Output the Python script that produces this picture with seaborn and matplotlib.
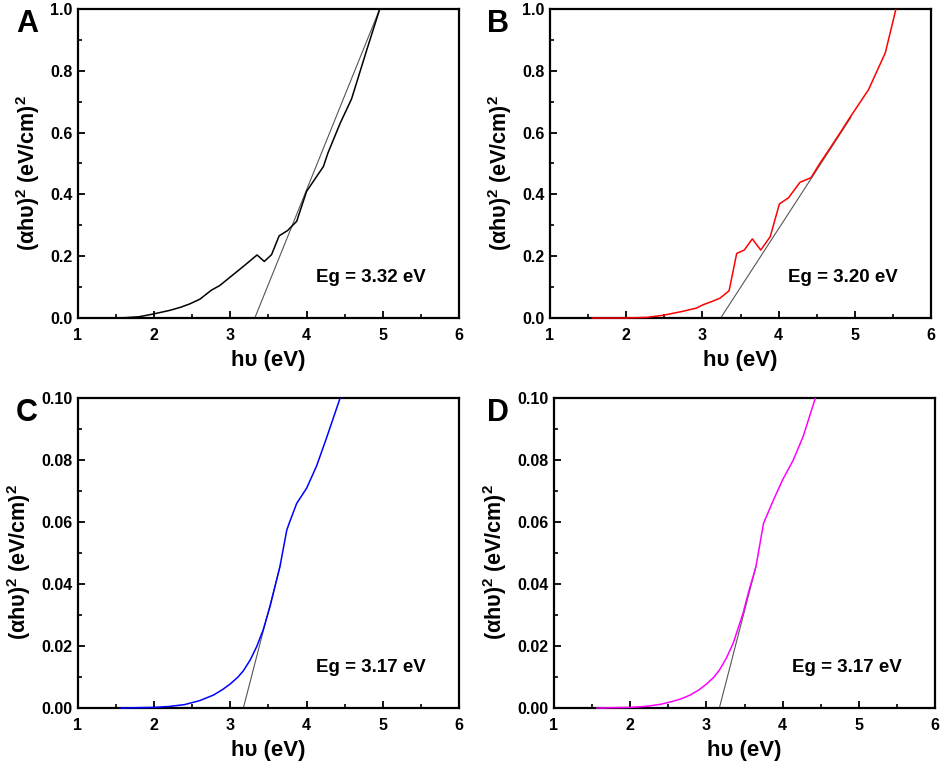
import numpy as np
import pandas as pd
import matplotlib
matplotlib.use("Agg")
import matplotlib.pyplot as plt
import seaborn as sns
from matplotlib.ticker import MultipleLocator, FormatStrFormatter
from matplotlib.transforms import Bbox, TransformedBbox

# ---- data ----
panel_letters = ["A", "B", "C", "D"]
line_colors = ["#000000", "#ff0000", "#0000ff", "#ff00ff"]
eg_labels = ["Eg = 3.32 eV", "Eg = 3.20 eV", "Eg = 3.17 eV", "Eg = 3.17 eV"]

a_x = [1.55, 1.80, 1.99, 2.21, 2.35, 2.47, 2.60, 2.75, 2.86, 3.00, 3.17, 3.35, 3.445, 3.54, 3.64,
       3.75, 3.87, 4.00, 4.22, 4.28, 4.44, 4.59, 4.79, 4.96, 5.02]
a_y = [0.0, 0.004, 0.013, 0.025, 0.035, 0.046, 0.061, 0.090, 0.105, 0.133, 0.167, 0.204, 0.183,
       0.205, 0.266, 0.283, 0.313, 0.410, 0.490, 0.534, 0.630, 0.709, 0.868, 1.0, 1.05]

b_x = [1.55, 2.00, 2.27, 2.49, 2.75, 2.92, 3.01, 3.12, 3.23, 3.35, 3.45, 3.55, 3.655, 3.765, 3.89,
       4.01, 4.13, 4.28, 4.425, 4.54, 4.63, 4.74, 4.83, 4.915, 5.18, 5.40, 5.54, 5.58]
b_y = [0.0, 0.0, 0.002, 0.009, 0.022, 0.032, 0.043, 0.053, 0.064, 0.088, 0.209, 0.220, 0.256,
       0.220, 0.263, 0.369, 0.389, 0.439, 0.454, 0.500, 0.533, 0.574, 0.608, 0.641, 0.739, 0.858,
       1.0, 1.05]

c_x = [1.55, 2.00, 2.20, 2.40, 2.60, 2.78, 2.90, 3.00, 3.10, 3.17, 3.26, 3.345, 3.43, 3.52, 3.65,
       3.74, 3.77, 3.87, 4.00, 4.13, 4.26, 4.44, 4.48]
c_y = [0.0, 0.0002, 0.0005, 0.0011, 0.0024, 0.0042, 0.0060, 0.0078, 0.0100, 0.0120, 0.0155,
       0.0198, 0.0252, 0.0327, 0.0456, 0.0574, 0.0595, 0.0660, 0.0709, 0.0780, 0.0870, 0.1000,
       0.1030]

d_x = [1.56, 2.00, 2.20, 2.40, 2.52, 2.65, 2.78, 2.90, 3.00, 3.10, 3.17, 3.26, 3.35, 3.42, 3.48,
       3.56, 3.65, 3.75, 3.88, 4.00, 4.14, 4.27, 4.43, 4.47]
d_y = [0.0, 0.0002, 0.0005, 0.0012, 0.0019, 0.0028, 0.0041, 0.0058, 0.0077, 0.0100, 0.0122,
       0.0160, 0.0208, 0.0260, 0.0305, 0.0380, 0.0456, 0.0596, 0.0671, 0.0736, 0.0800, 0.0876,
       0.1000, 0.1030]

# linear-fit (Tauc extrapolation) lines: x-intercept, slope, end x
fit_x0 = [3.32, 3.24, 3.17, 3.17]
fit_slope = [0.61, 0.38, 0.095, 0.095]
fit_xend = [4.98, 4.95, 3.66, 3.65]

y_max = [1.0, 1.0, 0.10, 0.10]
y_major = [0.2, 0.2, 0.02, 0.02]
y_fmt = ["%.1f", "%.1f", "%.2f", "%.2f"]

xs = [a_x, b_x, c_x, d_x]
ys = [a_y, b_y, c_y, d_y]

# ---- style ----
sns.set_style("ticks")
plt.rcParams["font.family"] = ["Liberation Sans", "DejaVu Sans"]
plt.rcParams["font.weight"] = "bold"
plt.rcParams["text.color"] = "black"
plt.rcParams["axes.labelcolor"] = "black"
plt.rcParams["axes.edgecolor"] = "black"
plt.rcParams["xtick.color"] = "black"
plt.rcParams["ytick.color"] = "black"
plt.rcParams["mathtext.fontset"] = "custom"
plt.rcParams["mathtext.rm"] = "Liberation Sans:bold"
plt.rcParams["mathtext.bf"] = "Liberation Sans:bold"
plt.rcParams["mathtext.it"] = "Liberation Sans:bold"
plt.rcParams["mathtext.default"] = "bf"

fig = plt.figure(figsize=(9.41, 7.61), dpi=100)
positions = [
    [78 / 941, (761 - 318) / 761, 381 / 941, 309 / 761],
    [550 / 941, (761 - 318) / 761, 381 / 941, 309 / 761],
    [78 / 941, (761 - 708) / 761, 381 / 941, 310 / 761],
    [554 / 941, (761 - 708) / 761, 381 / 941, 310 / 761],
]
letter_pos = [(16, 32), (487, 32), (16, 421), (487, 421)]

for i in range(4):
    ax = fig.add_axes(positions[i])
    df = pd.DataFrame({"x": xs[i], "y": ys[i]})
    sns.lineplot(data=df, x="x", y="y", ax=ax, color=line_colors[i], lw=1.1, sort=False,
                 zorder=3)
    fx = np.array([fit_x0[i], fit_xend[i]])
    fy = fit_slope[i] * (fx - fit_x0[i])
    ax.plot(fx, fy, color="#555555", lw=0.8, zorder=2)
    clip = TransformedBbox(Bbox([[0, -0.02], [1, 1]]), ax.transAxes)
    for ln in ax.lines:
        ln.set_clip_box(clip)

    ax.set_xlim(1, 6)
    ax.set_ylim(0, y_max[i])
    ax.xaxis.set_major_locator(MultipleLocator(1))
    ax.xaxis.set_minor_locator(MultipleLocator(0.5))
    ax.yaxis.set_major_locator(MultipleLocator(y_major[i]))
    ax.yaxis.set_minor_locator(MultipleLocator(y_major[i] / 2))
    ax.yaxis.set_major_formatter(FormatStrFormatter(y_fmt[i]))
    ax.tick_params(axis="both", which="major", direction="in", length=5, width=1.3,
                   labelsize=11.5)
    ax.tick_params(axis="both", which="minor", direction="in", length=3, width=1.2)
    ax.tick_params(axis="x", which="major", pad=7)
    ax.tick_params(axis="y", which="major", pad=4)
    for lab in ax.get_xticklabels() + ax.get_yticklabels():
        lab.set_fontweight("bold")
    for sp in ax.spines.values():
        sp.set_linewidth(1.6)
        sp.set_visible(True)
        sp.set_zorder(2.5)

    ax.set_xlabel("h\u03c5 (eV)", fontsize=16, fontweight="bold", labelpad=5)
    ax.set_ylabel("(\u03b1h\u03c5)$^{2}$ (eV/cm)$^{2}$", fontsize=15.5, fontweight="bold",
                  labelpad=6)
    ax.yaxis.label.set_y(0.47)
    ax.text(0.625, 0.13, eg_labels[i], transform=ax.transAxes, fontsize=13.5,
            fontweight="bold", va="center", ha="left")
    lx, ly = letter_pos[i]
    fig.text(lx / 941, 1 - ly / 761, panel_letters[i], fontsize=22, fontweight="bold",
             ha="left", va="baseline")

fig.savefig("out.png", dpi=100)
